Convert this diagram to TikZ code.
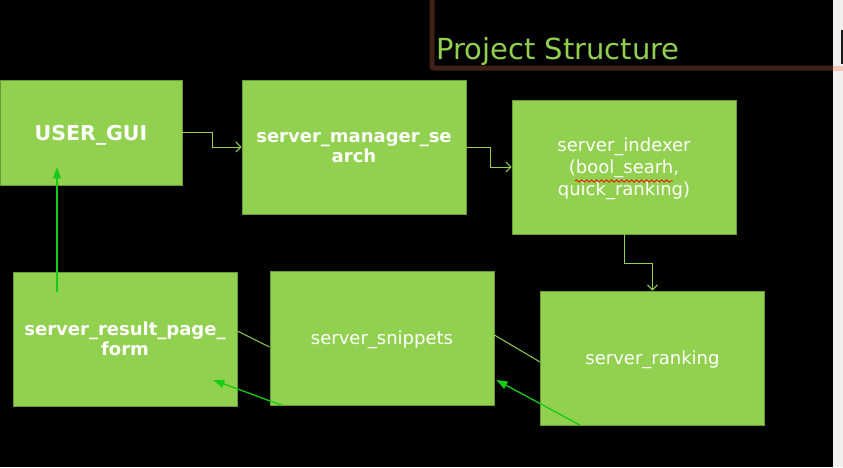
\documentclass[tikz,border=0pt]{standalone}
\usepackage{fontspec}
\setmainfont{DejaVu Sans}
\usetikzlibrary{calc,arrows.meta,decorations.pathmorphing}
\definecolor{boxgreen}{RGB}{146,208,80}
\definecolor{boxedge}{RGB}{104,152,56}
\definecolor{flowgreen}{RGB}{20,204,20}
\definecolor{framebrown}{RGB}{64,33,24}
\definecolor{fadepink}{RGB}{242,200,188}
\definecolor{stripgrey}{RGB}{240,239,237}
\tikzset{
  module/.style={draw=boxedge, line width=0.8pt, fill=boxgreen, text=white,
    minimum width=224pt, minimum height=134pt, inner sep=0pt, align=center,
    text depth=0pt, font=\fontsize{18}{22}\selectfont},
  boldtext/.style={font=\fontsize{18}{20}\selectfont\bfseries},
  link/.style={draw=boxgreen, line width=1pt, -{Straight Barb[length=5pt,width=10pt]}},
  plainlink/.style={draw=boxgreen, line width=1pt},
  flow/.style={draw=flowgreen, line width=1.3pt, -{Triangle[length=11pt,width=8pt]}}
}
\begin{document}
\begin{tikzpicture}[x=1pt,y=-1pt]
    \useasboundingbox (0,0) rectangle (843,467);
    % slide background
    \fill[black] (0,0) rectangle (843,467);
    \fill[stripgrey] (833,0) rectangle (843,467);
    \fill[black!90] (840.5,30) rectangle (843,64);
    \draw[framebrown, line width=5pt, rounded corners=2pt] (432,0) -- (432,68) -- (833,68);
    \draw[fadepink, line width=5pt] (833,68) -- (843,68);
    \node[anchor=base west, inner sep=0pt, text=boxgreen, font=\fontsize{29}{35}\selectfont] (title) at (436,59.5) {Project Structure};

    % modules
    \node[module, minimum width=182pt, minimum height=105pt, font=\fontsize{20.5}{25}\selectfont\bfseries] (gui) at (91,132.5) {USER\_GUI};
    \node[module, boldtext] (manager) at (354,147) {server\_manager\_se\\arch};
    \node[module] (indexer) at (624,167) {server\_indexer\\(bool\_searh,\\quick\_ranking)};
    \node[module] (ranking) at (652.5,358) {server\_ranking};
    \node[module] (snippets) at (382,338) {server\_snippets};
    \node[module, boldtext] (result) at (125,339) {server\_result\_page\_\\form};
    \draw[red, line width=0.8pt, decorate, decoration={snake, amplitude=1.2pt, segment length=5pt}]
      ($(indexer.center)+(-49,14)$) -- ($(indexer.center)+(49,14)$);

    % links
    \draw[link] (gui.east) -- ++(30,0) |- (manager.west);
    \draw[link] (manager.east) -- ++(24,0) |- (indexer.west);
    \draw[link] (indexer.south) -- ++(0,29) -| (ranking.north);
    \draw[plainlink] ($(snippets.east)+(0,-3)$) -- ($(ranking.west)+(0,4)$);
    \draw[plainlink] ($(result.east)+(0,-8)$) -- ($(snippets.west)+(0,9)$);

    % return flow
    \draw[flow] ($(ranking.south)+(-72,0)$) -- ($(snippets.east)+(2,42)$);
    \draw[flow] ($(snippets.south)+(-100,0)$) -- ($(result.east)+(-24,41)$);
    \draw[flow] ($(result.north)+(-68,20)$) -- ($(gui.south)+(-34,-18)$);
\end{tikzpicture}
\end{document}
